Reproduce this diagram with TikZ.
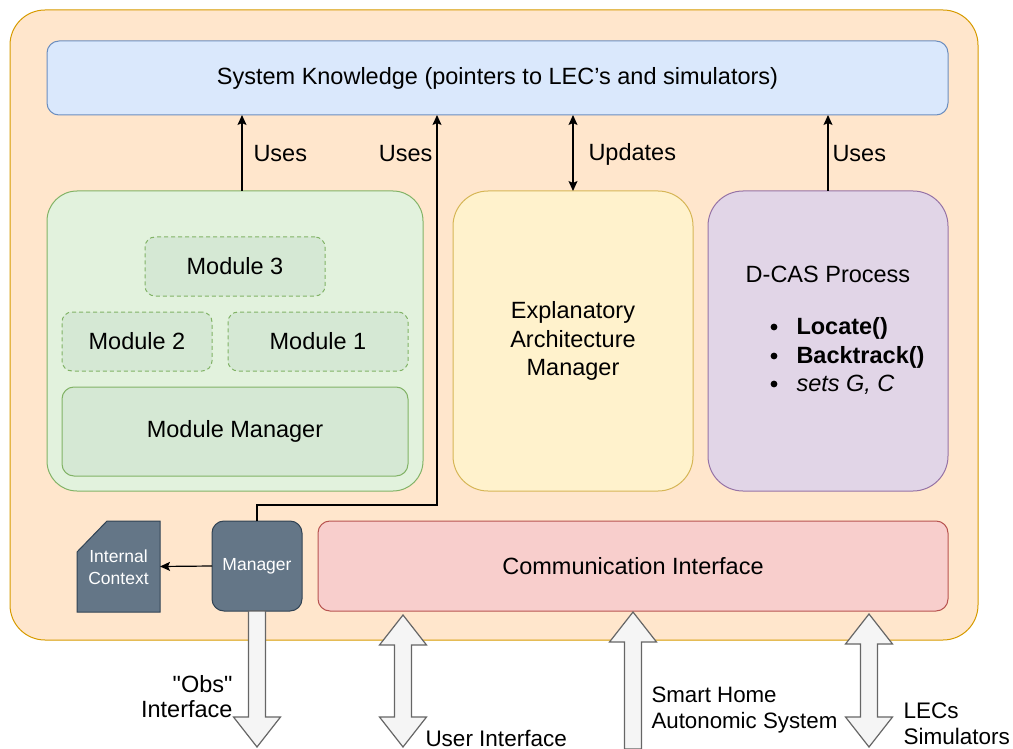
\documentclass[tikz,border=0pt]{standalone}
\usepackage{fontspec}
\setmainfont{Liberation Sans}
\newfontfamily\plainf{Liberation Sans}
\usetikzlibrary{arrows.meta}
\definecolor{outerF}{HTML}{FFE6CC}\definecolor{outerD}{HTML}{D79B00}
\definecolor{skF}{HTML}{DAE8FC}\definecolor{skD}{HTML}{6C8EBF}
\definecolor{gF}{HTML}{E2F2DD}\definecolor{gD}{HTML}{82B366}\definecolor{gM}{HTML}{D5E8D4}
\definecolor{yF}{HTML}{FFF2CC}\definecolor{yD}{HTML}{D6B656}
\definecolor{pF}{HTML}{E1D5E7}\definecolor{pD}{HTML}{9673A6}
\definecolor{rF}{HTML}{F8CECC}\definecolor{rD}{HTML}{B85450}
\definecolor{sF}{HTML}{647687}\definecolor{sD}{HTML}{314354}
\definecolor{bF}{HTML}{F5F5F5}\definecolor{bD}{HTML}{666666}
\newcommand\dnarrow[3]{\draw[barr] (#1-8.5,#2) -- (#1+8.5,#2) -- (#1+8.5,#3-30) -- (#1+23.5,#3-30) -- (#1,#3) -- (#1-23.5,#3-30) -- (#1-8.5,#3-30) -- cycle;}
\newcommand\uparrowb[3]{\draw[barr] (#1,#2) -- (#1+23.5,#2+30) -- (#1+8.5,#2+30) -- (#1+8.5,#3) -- (#1-8.5,#3) -- (#1-8.5,#2+30) -- (#1-23.5,#2+30) -- cycle;}
\newcommand\dblarrow[3]{\draw[barr] (#1,#2) -- (#1+23.5,#2+30) -- (#1+8.5,#2+30) -- (#1+8.5,#3-30) -- (#1+23.5,#3-30) -- (#1,#3) -- (#1-23.5,#3-30) -- (#1-8.5,#3-30) -- (#1-8.5,#2+30) -- (#1-23.5,#2+30) -- cycle;}
\begin{document}
\begin{tikzpicture}[x=1pt,y=-1pt,line width=1pt,
  box/.style={draw, anchor=north west, inner sep=0pt, outer sep=0pt, align=center, font=\fontsize{23.5}{28.5}\selectfont},
  arr/.style={-{Stealth[length=10pt,width=9pt,inset=2pt]}, line width=1.2pt},
  darr/.style={{Stealth[length=10pt,width=9pt,inset=2pt]}-{Stealth[length=10pt,width=9pt,inset=2pt]}, line width=1.2pt},
  lbl/.style={font=\fontsize{23.5}{28}\selectfont, inner sep=0pt},
  barr/.style={fill=bF, draw=bD, line width=1.2pt}]
\useasboundingbox (0,0) rectangle (1013,749);
\node[box, fill=outerF, draw=outerD, rounded corners=35pt, minimum width=968pt, minimum height=630pt] (outer) at (10,10) {};
\node[box, fill=skF, draw=skD, rounded corners=12pt, minimum width=901pt, minimum height=74pt] (sk) at (47,41) {System Knowledge (pointers to LEC's and simulators)};
\node[box, fill=gF, draw=gD, rounded corners=30pt, minimum width=376pt, minimum height=300pt] (gb) at (47,191) {};
\node[box, fill=gM, draw=gD, dash pattern=on 4pt off 3pt, rounded corners=10pt, minimum width=180pt, minimum height=59pt] (m3) at (145,237) {Module 3};
\node[box, fill=gM, draw=gD, dash pattern=on 4pt off 3pt, rounded corners=10pt, minimum width=150pt, minimum height=59pt] (m2) at (62,312) {Module 2};
\node[box, fill=gM, draw=gD, dash pattern=on 4pt off 3pt, rounded corners=10pt, minimum width=180pt, minimum height=59pt] (m1) at (228,312) {Module 1};
\node[box, fill=gM, draw=gD, rounded corners=12pt, minimum width=346pt, minimum height=89pt] (mm) at (62,387) {Module Manager};
\node[box, fill=yF, draw=yD, rounded corners=35pt, minimum width=240pt, minimum height=300pt] (eam) at (453,191) {Explanatory\\Architecture\\Manager};
\node[box, fill=pF, draw=pD, rounded corners=35pt, minimum width=240pt, minimum height=300pt] (dcas) at (708,191) {};
\node[lbl] (dcasT) at (828,274) {D-CAS Process};
\node[lbl, anchor=base west] (b1) at (796,334) {\textbf{Locate()}};
\node[lbl, anchor=base west] (b2) at (796,363) {\textbf{Backtrack()}};
\node[lbl, anchor=base west] (b3) at (796,391) {\textit{sets G, C}};
\foreach \yy in {327,356,384} \fill (774,\yy) circle (3.4pt);
\node[box, fill=rF, draw=rD, rounded corners=12pt, minimum width=630pt, minimum height=90pt] (ci) at (318,521) {Communication Interface};
\node[box, fill=sF, draw=sD, rounded corners=12pt, minimum width=90pt, minimum height=90pt, text=white, font=\fontsize{17.5}{21}\selectfont] (mgr) at (212,521) {Manager};
\node[anchor=north west, inner sep=0pt, outer sep=0pt, minimum width=83pt, minimum height=91pt] (ic) at (77,521) {};
\draw[fill=sF, draw=sD] (ic.south west) -- ([yshift=-31pt]ic.north west) -- ([xshift=30pt]ic.north west) -- (ic.north east) -- (ic.south east) -- cycle;
\node[text=white, align=center, inner sep=0pt, font=\fontsize{17.5}{22}\selectfont] (icT) at ([yshift=-1pt]ic.center) {Internal\\Context};
% connectors
\coordinate (u1) at (242,0);
\coordinate (u2) at (437,0);
\draw[arr] (gb.north -| u1) -- (sk.south -| u1);
\draw[arr] (mgr.north) -- ++(0,-16) -| (sk.south -| u2);
\draw[darr] (eam.north) -- (sk.south -| eam.north);
\draw[arr] (dcas.north) -- (sk.south -| dcas.north);
\draw[arr] (mgr.west) -- (ic.east);
\node[lbl, anchor=west] (l1) at (253,154) {Uses};
\node[lbl, anchor=east] (l2) at (433,154) {Uses};
\node[lbl, anchor=west] (l3) at (588,154) {Updates};
\node[lbl, anchor=west] (l4) at (832,154) {Uses};
% block arrows
\dnarrow{257}{611}{747}
\dblarrow{403}{615}{747}
\uparrowb{633}{612}{749}
\dblarrow{869}{614}{747}
\node[lbl, align=right, anchor=east, font=\plainf\fontsize{23.5}{25}\selectfont] (lo) at (233,697) {"Obs"\\Interface};
\node[lbl, anchor=west, font=\fontsize{22.5}{26}\selectfont] (lu) at (425,738) {User Interface};
\node[lbl, align=left, anchor=west, font=\fontsize{22.3}{26}\selectfont] (ls) at (651,710) {Smart Home\\Autonomic System};
\node[lbl, align=left, anchor=west, font=\fontsize{22.5}{26}\selectfont] (ll) at (903,724) {LECs\\Simulators};
\end{tikzpicture}
\end{document}
